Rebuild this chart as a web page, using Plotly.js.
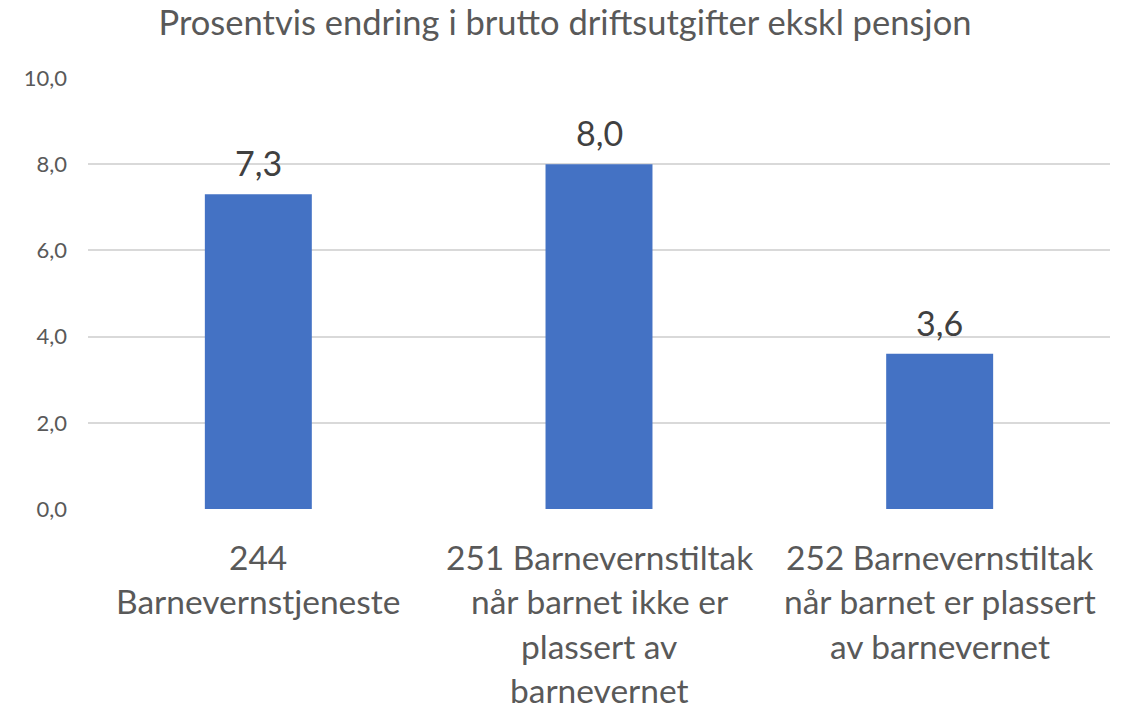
<!DOCTYPE html>
<html>
<head>
<meta charset="utf-8">
<script src="https://cdn.plot.ly/plotly-3.0.1.min.js"></script>
<style>html,body{margin:0;padding:0;background:#fff}#chart{width:1130px;height:710px}</style>
</head>
<body>
<div id="chart"></div>
<script>
const categories = ["244 Barnevernstjeneste", "251 Barnevernstiltak når barnet ikke er plassert av barnevernet", "252 Barnevernstiltak når barnet er plassert av barnevernet"];
const categoryLines = [
  ["244", "Barnevernstjeneste"],
  ["251 Barnevernstiltak", "når barnet ikke er", "plassert av", "barnevernet"],
  ["252 Barnevernstiltak", "når barnet er plassert", "av barnevernet"]
];
const values = [7.3, 8.0, 3.6];
const yTicks = [0, 2, 4, 6, 8, 10];
const yTickLabels = ["0,0", "2,0", "4,0", "6,0", "8,0", "10,0"];
const titleText = "Prosentvis endring i brutto driftsutgifter ekskl pensjon";

const FONT = "Lato, 'Open Sans', sans-serif";
const annotations = [];
categories.forEach((c, i) => {
  annotations.push({
    x: c, y: values[i], xref: 'x', yref: 'y',
    text: values[i].toFixed(1).replace('.', ','),
    showarrow: false, yanchor: 'bottom', yshift: 9,
    font: {family: FONT, size: 34, color: '#404040'}
  });
  categoryLines[i].forEach((line, j) => {
    annotations.push({
      x: c, y: 0, xref: 'x', yref: 'paper',
      text: line, showarrow: false, yanchor: 'middle',
      yshift: -(48 + j * 44.3),
      borderpad: 0,
      font: {family: FONT, size: 33.5, color: '#595959'}
    });
  });
});

const trace = {
  type: 'bar', x: categories, y: values,
  marker: {color: '#4472C4'},
  hoverinfo: 'none'
};

const layout = {
  width: 1130, height: 710,
  margin: {l: 88, r: 20, t: 78, b: 201},
  paper_bgcolor: '#fff', plot_bgcolor: '#fff',
  separators: ', ',
  bargap: 0.686,
  showlegend: false,
  title: {
    text: titleText, x: 0.5, xref: 'container', xanchor: 'center',
    y: 1 - 23 / 710, yref: 'container', yanchor: 'middle',
    font: {family: FONT, size: 34.5, color: '#595959'}
  },
  xaxis: {showticklabels: false, showgrid: false, zeroline: false, showline: false, ticks: ''},
  yaxis: {
    range: [0, 10], tickvals: yTicks, ticktext: yTickLabels,
    showgrid: true, gridcolor: '#D9D9D9', gridwidth: 2,
    zeroline: false, showline: false, ticks: '',
    ticklabelstandoff: 20,
    tickfont: {family: FONT, size: 22, color: '#595959'}
  },
  annotations: annotations
};

Plotly.newPlot('chart', [trace], layout, {displayModeBar: false, staticPlot: true});
</script>
</body>
</html>
